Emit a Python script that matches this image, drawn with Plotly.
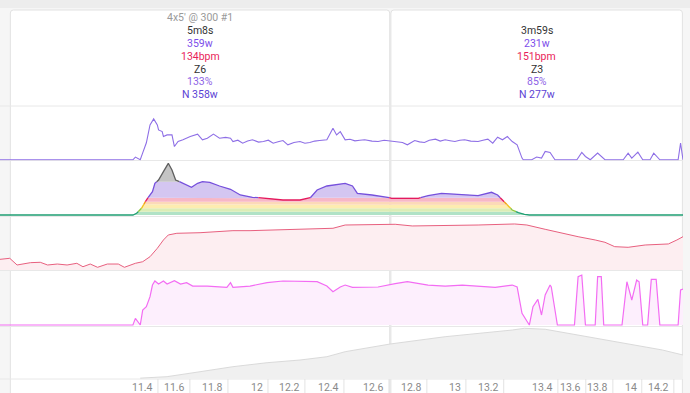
import numpy as np
import plotly.graph_objects as go

# ---------------- data ----------------
# time in seconds from left edge of the view
power_t = [0, 109, 111, 115, 117, 120, 123, 125, 126, 129, 130, 133, 134, 137, 141, 143, 146, 150, 156, 162,
           166, 170, 175, 180, 185, 189, 191, 195, 199, 203, 207, 212, 216, 220, 224, 228, 232, 236, 241, 246,
           250, 254, 258, 262, 268, 273, 276, 279, 283, 287, 291, 295, 299, 305, 310, 315, 321, 326, 330, 334,
           340, 344, 348, 352, 357, 361, 365, 369, 373, 377, 381, 386, 392, 396, 400, 404, 408, 412, 416, 420,
           424, 428, 429, 436, 440, 444, 447, 451, 455, 473, 477, 480, 484, 490, 496, 511, 515, 518, 523, 527,
           533, 536, 541, 556, 558, 560]
power_w = [0, 0, 36, 0, 93, 227, 467, 511, 547, 467, 400, 377, 311, 333, 333, 177, 244, 267, 311, 343,
           267, 289, 343, 289, 300, 289, 244, 262, 222, 250, 267, 236, 244, 262, 222, 240, 257, 200, 231, 244,
           222, 231, 250, 257, 267, 423, 333, 377, 267, 275, 253, 262, 267, 250, 244, 262, 253, 244, 231, 200,
           257, 240, 231, 262, 276, 250, 267, 255, 244, 262, 267, 250, 244, 262, 276, 222, 302, 267, 311, 244,
           200, 22, 0, 0, 36, 22, 111, 98, 0, 0, 98, 44, 0, 89, 0, 0, 89, 22, 102, 0,
           0, 89, 0, 0, 222, 0]

zone_t = [0, 109, 112, 116, 120, 125, 127, 130, 134, 138, 141, 144, 149, 157, 162, 166, 172, 180, 189, 197,
          207, 219, 232, 246, 254, 260, 268, 283, 289, 293, 305, 316, 321, 343, 351, 362, 379, 392, 403, 408,
          412, 416, 420, 425, 430, 434, 560]
zone_w = [0, 0, 17, 67, 150, 233, 317, 350, 433, 517, 450, 350, 323, 277, 317, 333, 327, 290, 257, 200,
          177, 167, 150, 150, 167, 250, 290, 317, 290, 217, 200, 183, 167, 167, 193, 217, 207, 193, 227, 200,
          150, 100, 50, 23, 7, 0, 0]
zone_bounds = [33, 67, 107, 133, 173, 333]

hr_t = [0, 8, 14, 25, 33, 39, 47, 55, 63, 68, 74, 80, 88, 97, 102, 111, 117, 123, 129, 134,
        138, 145, 164, 191, 205, 232, 260, 273, 283, 324, 338, 365, 392, 422, 432, 447, 461, 474, 488, 496,
        504, 515, 529, 548, 555, 560]
hr_bpm = [108.6, 110.2, 99.8, 103.4, 104, 99.8, 101.3, 99.8, 102.4, 97.1, 101.3, 96.2, 101.3, 101.3, 96.2,
          102.4, 104.9, 112.7, 125.8, 138.7, 146.5, 149.1, 150, 153.2, 153.2, 154.2, 155.8, 156.9, 162, 163.1,
          160.5, 160.9, 162, 163.6, 162, 155.3, 149.1, 143.8, 138.7, 135.1, 128.3, 127.3, 130.9, 132.5, 138.7,
          143.8]

cad_t = [0, 109, 111, 115, 117, 120, 123, 125, 127, 130, 134, 137, 143, 148, 153, 158, 170, 186, 189, 191,
         205, 219, 232, 246, 260, 268, 273, 279, 283, 289, 310, 324, 334, 351, 365, 379, 406, 420, 424, 428,
         434, 437, 441, 444, 447, 451, 452, 457, 471, 474, 477, 480, 488, 490, 493, 495, 510, 514, 518, 522,
         524, 527, 531, 534, 538, 541, 556, 558, 560]
cad_rpm = [0, 0, 13.6, 0, 30.5, 37.3, 57.7, 81.4, 89.6, 83.5, 89.6, 83.5, 90.2, 83.5, 86.2, 79.4, 79.4, 76.7,
           86.2, 76.7, 79.4, 86.2, 89.6, 88.2, 88.2, 79.4, 67.8, 77.4, 81.4, 76.7, 77.4, 84.2, 88.2, 81.4, 79.4,
           81.4, 76.7, 81.4, 77.4, 23.7, 0, 37.3, 52.3, 20.4, 61.1, 81.4, 77.4, 0, 0, 98.4, 101.8, 0, 0, 98.4,
           98.4, 0, 0, 88.2, 50.9, 91.6, 88.2, 0, 0, 93, 93, 0, 0, 71.3, 73.3]

elev_t = [115, 137, 164, 191, 219, 246, 268, 283, 320, 365, 420, 430, 447, 474, 515, 543, 560]
elev_m = [191, 192.7, 198.4, 204.2, 208.8, 211.9, 215.7, 221.5, 230.4, 238.8, 246.5, 248.5, 247.4, 240.8,
          231.2, 223.5, 217.7]

tick_t = [129.5, 155.7, 186.9, 219.7, 250, 282, 318.9, 350, 382, 413, 457.4, 480.3, 502.5, 526.2, 552.5]
tick_km = ["11.4", "11.6", "11.8", "12", "12.2", "12.4", "12.6", "12.8", "13", "13.2", "13.4", "13.6",
           "13.8", "14", "14.2"]

interval_start = [8.5, 320.5]
interval_end = [319.5, 559.5]
interval1_text = ["4x5' @ 300 #1", "5m8s", "359w", "134bpm", "Z6", "133%", "N 358w"]
interval2_text = ["", "3m59s", "231w", "151bpm", "Z3", "85%", "N 277w"]

# ---------------- styles ----------------
W, H = 690, 393
FONT = "Roboto"
row_colors = ["#9a9a9a", "#333333", "#7c4dea", "#e91e5a", "#333333", "#8e63e6", "#5b3fd4"]
zone_fill = ["#b1e2c6", "#dcedb6", "#fdecb0", "#fcd9b8", "#f7b7c7", "#d4c6f1", "#c4c4c4"]
zone_line = ["#1f9e73", "#8cc63f", "#f2c31b", "#f39c12", "#e5195d", "#7650dc", "#5f5f5f"]


def py(p):
    return 1 - p / H


XMAX = 560
fig = go.Figure()

# power
fig.add_trace(go.Scatter(x=power_t, y=power_w, mode="lines", line=dict(color="#8e6fe6", width=1.1),
                         xaxis="x", yaxis="y", hoverinfo="skip"))


# zone panel: insert crossing points for clean clipping
def insert_crossings(t, v, bounds):
    T, V = [t[0]], [v[0]]
    for i in range(1, len(t)):
        t0, v0, t1, v1 = t[i - 1], v[i - 1], t[i], v[i]
        cs = []
        for b in bounds:
            if (v0 - b) * (v1 - b) < 0:
                f = (b - v0) / (v1 - v0)
                cs.append((t0 + f * (t1 - t0), b))
        cs.sort()
        for c in cs:
            T.append(c[0]); V.append(c[1])
        T.append(t1); V.append(v1)
    return np.array(T, float), np.array(V, float)


ZT, ZV = insert_crossings(zone_t, zone_w, zone_bounds)
edges = [0] + zone_bounds + [1e9]
for k in range(7):
    lo, hi = edges[k], edges[k + 1]
    fig.add_trace(go.Scatter(x=ZT, y=np.minimum(ZV, lo), mode="lines", line=dict(width=0),
                             xaxis="x", yaxis="y2", hoverinfo="skip"))
    fig.add_trace(go.Scatter(x=ZT, y=np.minimum(ZV, hi), mode="lines", line=dict(width=0),
                             fill="tonexty", fillcolor=zone_fill[k], xaxis="x", yaxis="y2", hoverinfo="skip"))

# zone-coloured line
mids = (ZV[:-1] + ZV[1:]) / 2
zidx = np.searchsorted(zone_bounds, mids)
start = 0
for i in range(1, len(zidx) + 1):
    if i == len(zidx) or zidx[i] != zidx[start]:
        fig.add_trace(go.Scatter(x=ZT[start:i + 1], y=ZV[start:i + 1], mode="lines",
                                 line=dict(color=zone_line[zidx[start]], width=1.3),
                                 xaxis="x", yaxis="y2", hoverinfo="skip"))
        start = i

# heart rate
fig.add_trace(go.Scatter(x=hr_t, y=hr_bpm, mode="lines", line=dict(color="#e8607f", width=1),
                         fill="tozeroy", fillcolor="#fdeef1", xaxis="x", yaxis="y3", hoverinfo="skip"))
# cadence
fig.add_trace(go.Scatter(x=cad_t, y=cad_rpm, mode="lines", line=dict(color="#f36cf3", width=1.2),
                         fill="tozeroy", fillcolor="#fdeffd", xaxis="x", yaxis="y4", hoverinfo="skip"))
# elevation
fig.add_trace(go.Scatter(x=elev_t, y=elev_m, mode="lines", line=dict(color="#dadada", width=1),
                         fill="tozeroy", fillcolor="#f0f0f0", xaxis="x", yaxis="y5", hoverinfo="skip"))

shapes = []
# top band
shapes.append(dict(type="rect", xref="paper", yref="paper", x0=0, x1=1, y0=py(8), y1=1,
                   fillcolor="#ededed", line=dict(width=0), layer="below"))
# interval boxes (white, rounded top corners)
rx, ry = 3 / (683 / XMAX), 3 / H
for s, e in zip(interval_start, interval_end):
    top, bot = py(10), -0.05
    path = (f"M {s},{bot} L {s},{top - ry} Q {s},{top} {s + rx},{top} L {e - rx},{top} "
            f"Q {e},{top} {e},{top - ry} L {e},{bot} Z")
    shapes.append(dict(type="path", xref="x", yref="paper", path=path, fillcolor="white",
                       line=dict(color="#e2e2e2", width=1), layer="below"))
# panel separators
for p in [106, 160.5, 216.5, 270.5, 326.5, 379]:
    shapes.append(dict(type="line", xref="x", yref="paper", x0=0, x1=XMAX, y0=py(p), y1=py(p),
                       line=dict(color="#e8e8e8", width=1), layer="below"))
# axis separators
for t in tick_t:
    shapes.append(dict(type="line", xref="x", yref="paper", x0=t, x1=t, y0=0, y1=py(379),
                       line=dict(color="#e3e3e3", width=1), layer="below"))

annotations = []
for t, lab in zip(tick_t, tick_km):
    annotations.append(dict(x=t, y=py(387.5), xref="x", yref="paper", text=lab, showarrow=False,
                            xanchor="right", yanchor="middle", xshift=-3,
                            font=dict(family=FONT, size=10.5, color="#8a8a8a")))
for lines, s, e in [(interval1_text, interval_start[0], interval_end[0]),
                    (interval2_text, interval_start[1], interval_end[1])]:
    cx = (s + e) / 2
    for i, txt in enumerate(lines):
        if not txt:
            continue
        annotations.append(dict(x=cx, y=py(17.5 + 12.9 * i), xref="x", yref="paper", text=txt,
                                showarrow=False, xanchor="center", yanchor="middle",
                                font=dict(family=FONT, size=10.5, color=row_colors[i])))

hidden = dict(showgrid=False, zeroline=False, showticklabels=False, showline=False, ticks="")
fig.update_layout(
    width=W, height=H, margin=dict(l=0, r=0, t=0, b=0),
    paper_bgcolor="#f6f6f6", plot_bgcolor="rgba(0,0,0,0)", showlegend=False,
    hovermode=False,
    xaxis=dict(domain=[0, 683 / W], range=[0, XMAX], anchor="y5", **hidden),
    yaxis=dict(domain=[py(160.5), py(106)], range=[-10, 720], anchor="x", **hidden),
    yaxis2=dict(domain=[py(216), py(161)], range=[-10, 540], anchor="x", **hidden),
    yaxis3=dict(domain=[py(270), py(216)], range=[92, 176], anchor="x", **hidden),
    yaxis4=dict(domain=[py(326), py(271)], range=[-2, 110], anchor="x", **hidden),
    yaxis5=dict(domain=[py(379), py(327)], range=[190, 250], anchor="x", **hidden),
    shapes=shapes, annotations=annotations,
    font=dict(family=FONT),
)

fig.write_html("out.html", config={"displayModeBar": False},
               post_script="document.body.style.margin='0px';document.body.style.padding='0px';")
